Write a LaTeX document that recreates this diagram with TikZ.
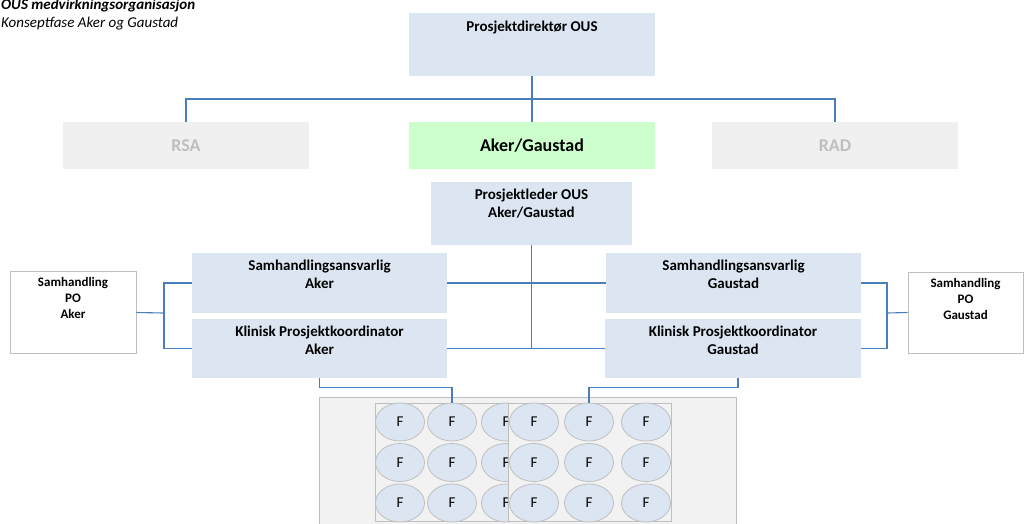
\documentclass[tikz,border=0pt]{standalone}
\usepackage{fontspec}
\setmainfont{Carlito}
\usetikzlibrary{positioning,shapes.geometric}

\definecolor{boxblue}{RGB}{220,230,242}
\definecolor{boxgrey}{RGB}{240,240,240}
\definecolor{poolgrey}{RGB}{242,242,242}
\definecolor{edgegrey}{RGB}{191,191,191}
\definecolor{textgrey}{RGB}{190,190,190}
\definecolor{boxgreen}{RGB}{204,255,204}
\definecolor{lineblue}{RGB}{74,126,187}

\tikzset{
  box/.style={fill=boxblue, inner sep=0pt},
  boxtext/.style={align=center, font=\fontsize{15}{18}\selectfont\bfseries},
  region/.style={fill=boxgrey, inner sep=0pt, text=textgrey, font=\fontsize{18}{22}\selectfont\bfseries},
  pobox/.style={draw=edgegrey, fill=white, line width=0.8pt, inner sep=0pt},
  potext/.style={align=center, font=\fontsize{13}{16}\selectfont\bfseries},
  group/.style={draw=edgegrey, fill=poolgrey, line width=0.8pt, inner sep=0pt},
  fnode/.style={ellipse, draw=edgegrey, fill=boxblue, line width=0.8pt, minimum width=49pt, minimum height=38pt, inner sep=0pt, font=\fontsize{15}{18}\selectfont},
  conn/.style={draw=lineblue, line width=1.1pt},
}

\begin{document}
\begin{tikzpicture}[x=1pt,y=-1pt]
  \useasboundingbox (0,0) rectangle (1025,523);

  % title
  \node[anchor=base west, inner sep=0pt, font=\fontsize{15}{18}\selectfont\bfseries\itshape] (title) at (1,9) {OUS medvirkningsorganisasjon};
  \node[anchor=base west, inner sep=0pt, font=\fontsize{15}{18}\selectfont\itshape] (subtitle) at (1,27) {Konseptfase Aker og Gaustad};

  % top
  \node[box, minimum width=246pt, minimum height=63pt] (dir) at (532,44.5) {};
  \node[boxtext, below=5pt of dir.north] (dirtext) {Prosjektdirektør OUS};

  \node[region, minimum width=246pt, minimum height=47pt] (rsa) at (186,145.5) {RSA};
  \node[region, fill=boxgreen, text=black, minimum width=246pt, minimum height=47pt] (akga) at (532,145.5) {Aker/Gaustad};
  \node[region, minimum width=246pt, minimum height=47pt] (rad) at (835,145.5) {RAD};

  \node[box, minimum width=201pt, minimum height=63pt] (pl) at (531.5,213) {};
  \node[boxtext, below=4pt of pl.north] (pltext) {Prosjektleder OUS\\Aker/Gaustad};

  % Aker side
  \node[box, minimum width=255pt, minimum height=60pt] (saA) at (319.5,283) {};
  \node[boxtext, below=4pt of saA.north] (saAtext) {Samhandlingsansvarlig\\Aker};
  \node[box, minimum width=255pt, minimum height=59pt] (kpA) at (319.5,348.5) {};
  \node[boxtext, below=4pt of kpA.north] (kpAtext) {Klinisk Prosjektkoordinator\\Aker};
  \node[pobox, minimum width=126pt, minimum height=82pt] (poA) at (73,312.5) {};
  \node[potext, below=3pt of poA.north] (poAtext) {Samhandling\\PO\\Aker};

  % Gaustad side
  \node[box, minimum width=255pt, minimum height=60pt] (saG) at (733.5,283) {};
  \node[boxtext, below=4pt of saG.north] (saGtext) {Samhandlingsansvarlig\\Gaustad};
  \node[box, minimum width=256pt, minimum height=59pt] (kpG) at (733,348.5) {};
  \node[boxtext, below=4pt of kpG.north] (kpGtext) {Klinisk Prosjektkoordinator\\Gaustad};
  \node[pobox, minimum width=115pt, minimum height=81pt] (poG) at (965.5,312.5) {};
  \node[potext, below=3pt of poG.north] (poGtext) {Samhandling\\PO\\Gaustad};

  % F groups
  \node[group, minimum width=417pt, minimum height=140pt] (pool) at (527.5,467) {};
  \node[group, minimum width=163pt, minimum height=118pt] (leftgroup) at (456.5,462) {};
  \node[fnode] (fl11) at (400,422) {F};
  \node[fnode] (fl12) at (452,422) {F};
  \node[fnode] (fl13) at (506,422) {F};
  \node[fnode] (fl21) at (400,462.5) {F};
  \node[fnode] (fl22) at (452,462.5) {F};
  \node[fnode] (fl23) at (506,462.5) {F};
  \node[fnode] (fl31) at (400,503) {F};
  \node[fnode] (fl32) at (452,503) {F};
  \node[fnode] (fl33) at (506,503) {F};
  \node[group, minimum width=163pt, minimum height=118pt] (rightgroup) at (589.5,462) {};
  \node[fnode] (fr11) at (534,422) {F};
  \node[fnode] (fr12) at (589,422) {F};
  \node[fnode] (fr13) at (646,422) {F};
  \node[fnode] (fr21) at (534,462.5) {F};
  \node[fnode] (fr22) at (589,462.5) {F};
  \node[fnode] (fr23) at (646,462.5) {F};
  \node[fnode] (fr31) at (534,503) {F};
  \node[fnode] (fr32) at (589,503) {F};
  \node[fnode] (fr33) at (646,503) {F};

  % connectors
  \coordinate (split) at (532,99);
  \coordinate (poAjoin) at (164,313);
  \coordinate (poGjoin) at (887,313);

  \draw[conn] (dir.south) -- (akga.north);
  \draw[conn] (rsa.north) |- (split) -| (rad.north);

  \draw[conn] (pl.south) -- (pl.south |- kpA.east);
  \draw[conn] (saA.east) -- (saG.west);
  \draw[conn] (kpA.east) -- (kpG.west);

  \draw[conn] (poA.east) -- (poAjoin);
  \draw[conn] (saA.west) -| (poAjoin) |- (kpA.west);
  \draw[conn] (poG.west) -- (poGjoin);
  \draw[conn] (saG.east) -| (poGjoin) |- (kpG.east);

  \draw[conn] (kpA.south) -- ++(0,9) -| (fl12.north);
  \draw[conn] ([xshift=5pt]kpG.south) -- ++(0,9) -| (fr12.north);

\end{tikzpicture}
\end{document}
